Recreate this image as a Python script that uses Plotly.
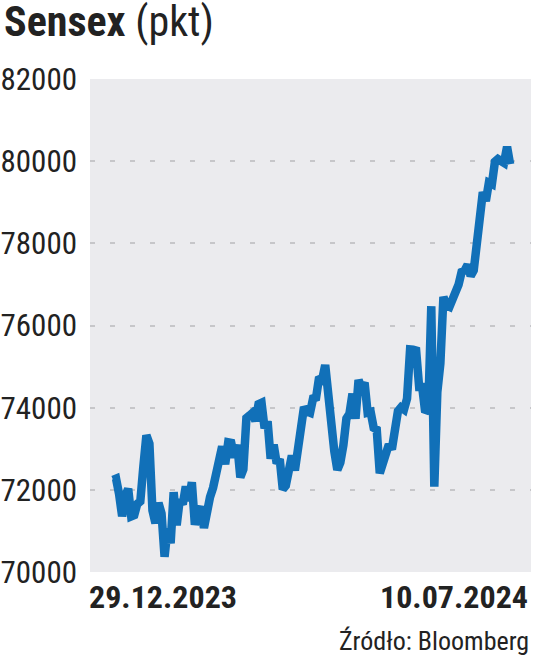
import plotly.graph_objects as go

dates = ["29.12.2023",
 "01.01","02.01","03.01","04.01","05.01","08.01","09.01","10.01","11.01","12.01","15.01","16.01","17.01","18.01","19.01","20.01","23.01","24.01","25.01","29.01","30.01","31.01",
 "01.02","02.02","05.02","06.02","07.02","08.02","09.02","12.02","13.02","14.02","15.02","16.02","19.02","20.02","21.02","22.02","23.02","26.02","27.02","28.02","29.02",
 "01.03","02.03","04.03","05.03","06.03","07.03","11.03","12.03","13.03","14.03","15.03","18.03","19.03","20.03","21.03","22.03","26.03","27.03","28.03",
 "01.04","02.04","03.04","04.04","05.04","08.04","09.04","10.04","12.04","15.04","16.04","18.04","19.04","22.04","23.04","24.04","25.04","26.04","29.04","30.04",
 "02.05","03.05","06.05","07.05","08.05","09.05","10.05","13.05","14.05","15.05","16.05","17.05","18.05","21.05","22.05","23.05","24.05","27.05","28.05","29.05","30.05","31.05",
 "03.06","04.06","05.06","06.06","07.06","10.06","11.06","12.06","13.06","14.06","18.06","19.06","20.06","21.06","24.06","25.06","26.06","27.06","28.06",
 "01.07","02.07","03.07","04.07","05.07","08.07","09.07","10.07.2024"]

sensex = [72240,
 72271,71892,71357,71847,72026,71355,71386,71657,71721,72568,73327,73128,71500,71187,71683,71424,70370,71060,70700,71941,71140,71752,
 71645,72085,71731,72186,71152,71428,71595,71072,71555,71822,72050,72426,72708,73057,72623,73158,73142,72790,73095,72304,72500,
 73745,73806,73872,73677,74086,74119,73502,73667,72762,73097,72643,72748,72012,72101,72641,72832,72470,72996,73651,
 74014,73904,73876,74227,74248,74742,74683,75038,74244,73399,72943,72488,72664,73088,73738,73852,74339,73730,74671,74482,
 74611,73878,73895,73511,73466,72404,72664,72776,73105,72987,73663,73917,74006,73953,74221,75418,75410,75390,74502,74503,73886,73961,
 76469,72079,74382,75074,76693,76490,76456,76606,76811,76993,77301,77337,77478,77209,77341,78053,78674,79243,79032,
 79476,79441,79986,80050,79997,79960,80352,79925]

y_ticks = [70000, 72000, 74000, 76000, 78000, 80000, 82000]
x_labels = ["29.12.2023", "10.07.2024"]
title_main = "Sensex"
title_unit = "(pkt)"
source = "Źródło: Bloomberg"

FONT = "Liberation Sans Narrow, Roboto Condensed, DejaVu Sans Condensed, Roboto, sans-serif"

idx = list(range(len(sensex)))
fig = go.Figure(go.Scatter(
    x=idx, y=sensex, mode="lines",
    line=dict(color="#1170b8", width=8.5, shape="linear"),
    text=dates, hoverinfo="text+y",
))

fig.update_layout(
    width=536, height=666,
    margin=dict(l=90, r=5, t=79, b=94),
    paper_bgcolor="white", plot_bgcolor="#ebebee",
    showlegend=False,
    xaxis=dict(range=[-7.6, 137.9], showgrid=False, zeroline=False, automargin=False,
               showticklabels=False, ticks=""),
    yaxis=dict(range=[70000, 82000], tickvals=y_ticks, ticktext=[str(v) for v in y_ticks],
               showgrid=True, gridcolor="#c6c6c9", gridwidth=1.5, griddash="5px,15px",
               zeroline=False, ticks="", ticklabelstandoff=12, automargin=False,
               tickfont=dict(family=FONT, size=31, color="#222222")),
)

fig.add_annotation(text=f"<b>{title_main}</b> {title_unit}", xref="paper", yref="paper",
                   x=-90 / 441, y=1, xanchor="left", yanchor="bottom", xshift=2, yshift=31,
                   showarrow=False, font=dict(family=FONT, size=42, color="#222222"))
fig.add_annotation(text=f"<b>{x_labels[0]}</b>", xref="paper", yref="paper",
                   x=(163 - 90) / 441, y=0, xanchor="center", yanchor="top", yshift=-4,
                   showarrow=False, font=dict(family=FONT, size=32, color="#222222"))
fig.add_annotation(text=f"<b>{x_labels[1]}</b>", xref="paper", yref="paper",
                   x=(454 - 90) / 441, y=0, xanchor="center", yanchor="top", yshift=-4,
                   showarrow=False, font=dict(family=FONT, size=32, color="#222222"))
fig.add_annotation(text=source, xref="paper", yref="paper",
                   x=1, y=0, xanchor="right", yanchor="top", yshift=-52,
                   showarrow=False, font=dict(family=FONT, size=26, color="#222222"))

fig.write_html("out.html", config={"displayModeBar": False},
               post_script="document.body.style.margin='0';document.body.style.padding='0';")
